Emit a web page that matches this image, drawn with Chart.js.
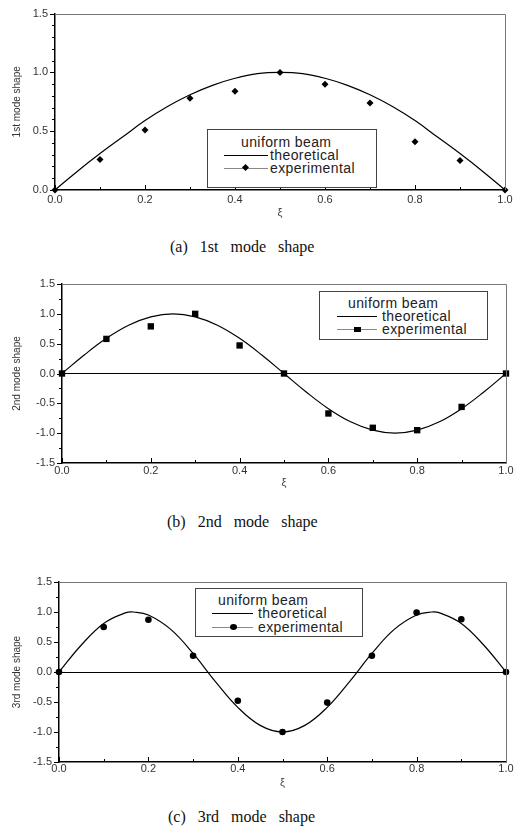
<!DOCTYPE html>
<html>
<head>
<meta charset="utf-8">
<script src="https://cdn.jsdelivr.net/npm/chart.js@4.4.0/dist/chart.umd.min.js"></script>
<style>
  html, body { margin: 0; padding: 0; background: #fff; }
  body { width: 518px; height: 828px; position: relative; overflow: hidden; font-family: "Liberation Sans", Arial, sans-serif; }
  .panel { position: absolute; left: 0; width: 518px; }
  .legend { position: absolute; box-sizing: border-box; border: 1px solid #444; background: #fff; font-size: 14px; color: #222; letter-spacing: 0.4px; z-index: 2; }
  .legend .row { position: absolute; left: 0; right: 0; height: 14px; line-height: 14px; white-space: nowrap; }
  .legend .swatch { position: absolute; top: 7px; height: 0; border-top: 1px solid #000; }
  .legend .mark { position: absolute; background: #000; }
  .legend .txt { position: absolute; top: 0; }
  .caption { position: absolute; font-family: "Liberation Serif", "Times New Roman", serif; font-size: 16px; word-spacing: 8px; color: #111; line-height: 20px; white-space: nowrap; }
</style>
</head>
<body>

<div class="panel" style="top:0;height:220px"><canvas id="mode1"></canvas></div>
<div class="panel" style="top:270px;height:220px"><canvas id="mode2"></canvas></div>
<div class="panel" style="top:540px;height:250px"><canvas id="mode3"></canvas></div>

<div class="caption" id="cap1" style="left:170px;top:237px"></div>
<div class="caption" id="cap2" style="left:167px;top:512px"></div>
<div class="caption" id="cap3" style="left:168px;top:807px"></div>

<script>
// measured points
const xExp = [0, 0.1, 0.2, 0.3, 0.4, 0.5, 0.6, 0.7, 0.8, 0.9, 1.0];
const mode1Exp = [0, 0.26, 0.51, 0.78, 0.84, 1.0, 0.90, 0.74, 0.41, 0.25, 0];
const mode2Exp = [0, 0.58, 0.79, 1.0, 0.47, 0, -0.67, -0.91, -0.95, -0.56, 0];
const mode3Exp = [0, 0.75, 0.87, 0.27, -0.48, -1.0, -0.51, 0.27, 0.99, 0.88, 0];

// theoretical curves
const xTheory = [0, 0.05, 0.1, 0.15, 0.2, 0.25, 0.3, 0.35, 0.4, 0.45, 0.5,
                 0.55, 0.6, 0.65, 0.7, 0.75, 0.8, 0.85, 0.9, 0.95, 1.0];
const mode1Theory = [0, 0.16, 0.31, 0.45, 0.59, 0.71, 0.81, 0.89, 0.95, 0.99, 1.0,
                     0.99, 0.95, 0.89, 0.81, 0.71, 0.59, 0.45, 0.31, 0.16, 0];
const mode2Theory = [0, 0.31, 0.59, 0.81, 0.95, 1.0, 0.95, 0.81, 0.59, 0.31, 0,
                     -0.31, -0.59, -0.81, -0.95, -1.0, -0.95, -0.81, -0.59, -0.31, 0];
const xTheory3 = [0, 0.05, 0.1, 0.15, 0.167, 0.2, 0.25, 0.3, 0.35, 0.4, 0.45, 0.5,
                  0.55, 0.6, 0.65, 0.7, 0.75, 0.8, 0.833, 0.85, 0.9, 0.95, 1.0];
const mode3Theory = [0, 0.45, 0.81, 0.99, 1.0, 0.95, 0.71, 0.31, -0.16, -0.59, -0.89, -1.0,
                     -0.89, -0.59, -0.16, 0.31, 0.71, 0.95, 1.0, 0.99, 0.81, 0.45, 0];

const seriesLabels = ['theoretical', 'experimental'];
const legendTitle = 'uniform beam';
const yTitles = ['1st mode shape', '2nd mode shape', '3rd mode shape'];
const xTitle = '\u03BE';
const captions = ['(a) 1st mode shape', '(b) 2nd mode shape', '(c) 3rd mode shape'];

const tickFont = { family: '"Liberation Sans", Arial, sans-serif', size: 11 };
const tickColor = '#333';

function pts(xs, ys) {
  return xs.map((x, i) => ({ x, y: ys[i] }));
}

// tick marks (major/minor) and the grey top/right frame
const frameTicks = {
  id: 'frameTicks',
  afterDraw(chart) {
    const { ctx, chartArea: a, scales: { x, y } } = chart;
    ctx.save();
    ctx.strokeStyle = '#000';
    ctx.lineWidth = 1;
    ctx.beginPath();
    y.ticks.forEach((t, i) => {
      const py = Math.round(y.getPixelForTick(i)) + 0.5;
      const len = t.label ? 5 : 3;
      ctx.moveTo(a.left - len, py);
      ctx.lineTo(a.left, py);
    });
    x.ticks.forEach((t, i) => {
      const px = Math.round(x.getPixelForTick(i)) + 0.5;
      const len = t.label ? 5 : 3;
      ctx.moveTo(px, a.bottom);
      ctx.lineTo(px, a.bottom - len);
    });
    ctx.stroke();
    ctx.strokeStyle = '#777';
    ctx.beginPath();
    ctx.moveTo(a.left, Math.round(a.top) + 0.5);
    ctx.lineTo(Math.round(a.right) + 0.5, Math.round(a.top) + 0.5);
    ctx.lineTo(Math.round(a.right) + 0.5, a.bottom);
    ctx.stroke();
    ctx.restore();
  }
};

function buildModeChart(canvasId, o) {
  const el = document.getElementById(canvasId);
  return new Chart(el, {
    type: 'scatter',
    data: {
      datasets: [
        { label: seriesLabels[0], data: pts(o.xt, o.yt), showLine: true, borderColor: '#000',
          borderWidth: 1.2, pointRadius: 0, tension: 0.4, fill: false },
        { label: seriesLabels[1], data: pts(xExp, o.ye), showLine: false, pointStyle: o.marker,
          pointRadius: o.radius, backgroundColor: '#000', borderColor: '#000', borderWidth: 0, clip: false }
      ]
    },
    options: {
      responsive: true,
      maintainAspectRatio: false,
      animation: false,
      layout: { padding: { top: o.padTop, right: o.padRight, left: 0, bottom: 0 } },
      plugins: { legend: { display: false }, tooltip: { enabled: false } },
      scales: {
        x: {
          type: 'linear', min: 0, max: 1,
          afterFit: (s) => { s.height = o.xHeight; },
          ticks: { stepSize: 0.1, autoSkip: false, maxRotation: 0, padding: o.xPad, font: tickFont, color: tickColor,
                   callback: (v) => (Math.round(v * 10) % 2 === 0 ? v.toFixed(1) : '') },
          grid: { display: true, drawTicks: false, color: 'transparent' },
          border: { color: '#000', width: 1.5 },
          title: { display: true, text: xTitle, color: '#444', font: { size: 11 }, padding: { top: o.xTitlePad, bottom: 0 } }
        },
        y: {
          type: 'linear', min: o.ymin, max: 1.5,
          afterFit: (s) => { s.width = o.yWidth; },
          ticks: { stepSize: o.ystep, autoSkip: false, padding: 7, font: tickFont, color: tickColor,
                   callback: (v) => (Math.abs(Math.round(v * 10)) % 5 === 0 ? v.toFixed(1) : '') },
          grid: { display: true, drawTicks: false, lineWidth: 1,
                  color: (c) => (o.zeroLine && c.tick && c.tick.value === 0 ? '#000' : 'transparent') },
          border: { color: '#000', width: 1.5 },
          title: { display: true, text: o.yTitle, color: '#333', font: { size: 10 }, padding: { top: 11, bottom: 0 } }
        }
      }
    },
    plugins: [frameTicks]
  });
}

function markStyle(style) {
  if (style === 'rectRot') return 'width:5px;height:5px;top:4px;transform:rotate(45deg);';
  if (style === 'rect') return 'width:7px;height:5px;top:5px;';
  return 'width:7px;height:6px;top:4px;border-radius:50%;';
}

// legend box from the chart's own datasets
function buildLegend(chart, b) {
  const box = document.createElement('div');
  box.className = 'legend';
  box.style.cssText = `left:${b.left}px;top:${b.top}px;width:${b.w}px;height:${b.h}px;`;
  let html = `<div class="row" style="top:${b.rows[0] - 7}px"><span class="txt" style="left:${b.titleX}px">${legendTitle}</span></div>`;
  chart.data.datasets.forEach((ds, i) => {
    const lineCol = i === 0 ? '#000' : '#888';
    const mid = Math.round((b.lineX + b.lineEnd) / 2);
    let mark = '';
    if (ds.pointStyle && !ds.showLine) {
      mark = `<span class="mark" style="left:${mid - 3}px;${markStyle(ds.pointStyle)}"></span>`;
    }
    html += `<div class="row" style="top:${b.rows[i + 1] - 7}px">` +
      `<span class="swatch" style="left:${b.lineX}px;width:${b.lineEnd - b.lineX}px;border-color:${lineCol}"></span>` +
      mark + `<span class="txt" style="left:62px">${ds.label}</span></div>`;
  });
  box.innerHTML = html;
  chart.canvas.parentNode.appendChild(box);
}

const c1 = buildModeChart('mode1', { xt: xTheory, yt: mode1Theory, ye: mode1Exp, marker: 'rectRot', radius: 3.5,
  padTop: 10, padRight: 13, xHeight: 30, yWidth: 55, xPad: 3, xTitlePad: 3, ymin: 0, ystep: 0.1,
  zeroLine: false, yTitle: yTitles[0] });
const c2 = buildModeChart('mode2', { xt: xTheory, yt: mode2Theory, ye: mode2Exp, marker: 'rect', radius: 4.5,
  padTop: 14, padRight: 12, xHeight: 27, yWidth: 62, xPad: 1, xTitlePad: 3, ymin: -1.5, ystep: 0.25,
  zeroLine: true, yTitle: yTitles[1] });
const c3 = buildModeChart('mode3', { xt: xTheory3, yt: mode3Theory, ye: mode3Exp, marker: 'circle', radius: 3.3,
  padTop: 42, padRight: 12, xHeight: 28, yWidth: 59, xPad: 0, xTitlePad: 3, ymin: -1.5, ystep: 0.25,
  zeroLine: true, yTitle: yTitles[2] });

buildLegend(c1, { left: 207, top: 129, w: 170, h: 59, titleX: 33, lineX: 16, lineEnd: 60, rows: [12, 25, 38] });
buildLegend(c2, { left: 319, top: 21, w: 169, h: 49, titleX: 28, lineX: 17, lineEnd: 57, rows: [11, 24, 37] });
buildLegend(c3, { left: 195, top: 48, w: 168, h: 49, titleX: 22, lineX: 16, lineEnd: 57, rows: [11, 24, 38] });

document.getElementById('cap1').textContent = captions[0];
document.getElementById('cap2').textContent = captions[1];
document.getElementById('cap3').textContent = captions[2];
</script>
</body>
</html>
